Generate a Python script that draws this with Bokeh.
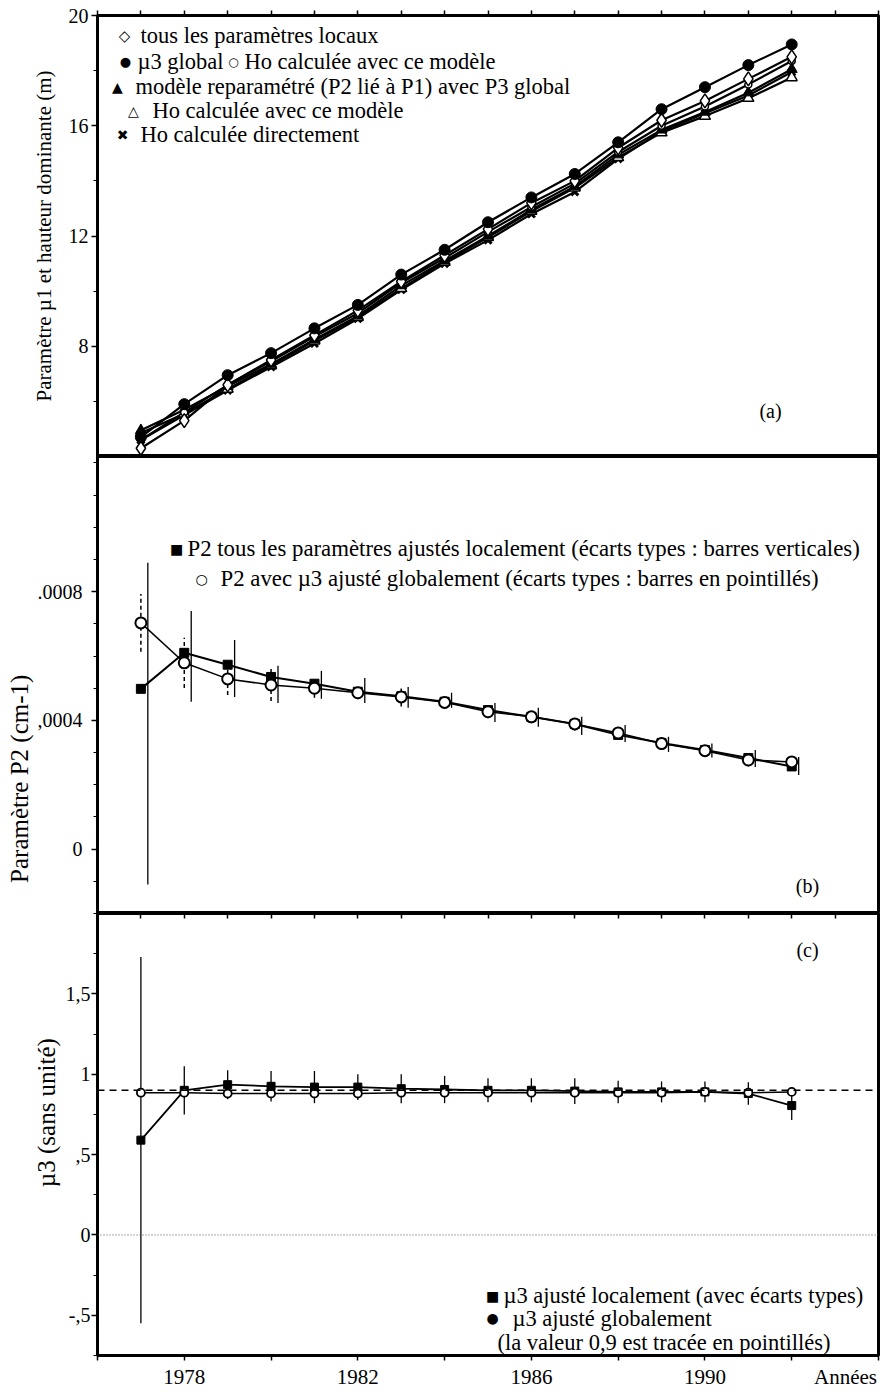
from bokeh.plotting import figure
from bokeh.models import Range1d, FixedTicker, Label, Span, ColumnDataSource, LinearAxis
from bokeh.layouts import column
from bokeh.transform import dodge
from bokeh.embed import file_html
from bokeh.resources import INLINE

# ---------------- data ----------------
years = [1977, 1978, 1979, 1980, 1981, 1982, 1983, 1984,
         1985, 1986, 1987, 1988, 1989, 1990, 1991, 1992]

# panel (a): parametre mu1 et hauteur dominante (m)
a_local_all = [4.3, 5.3, 6.6, 7.5, 8.4, 9.3, 10.35, 11.3, 12.25, 13.2, 14.0, 15.2, 16.2, 16.9, 17.7, 18.5]
a_mu3_global = [4.7, 5.9, 6.95, 7.75, 8.65, 9.5, 10.6, 11.5, 12.5, 13.4, 14.25, 15.4, 16.6, 17.4, 18.2, 18.95]
a_ho_global = [4.6, 5.6, 6.6, 7.45, 8.35, 9.2, 10.3, 11.2, 12.15, 13.05, 13.9, 15.05, 16.0, 16.7, 17.5, 18.35]
a_reparam = [4.95, 5.7, 6.55, 7.35, 8.25, 9.1, 10.2, 11.1, 12.0, 12.95, 13.8, 14.95, 15.85, 16.5, 17.2, 18.05]
a_ho_reparam = [4.85, 5.55, 6.45, 7.3, 8.2, 9.05, 10.1, 11.05, 11.95, 12.9, 13.75, 14.85, 15.75, 16.35, 17.0, 17.75]
a_ho_direct = [4.6, 5.5, 6.4, 7.25, 8.1, 9.0, 10.05, 11.0, 11.85, 12.8, 13.6, 14.8, 15.8, 16.45, 17.1, 17.95]

# panel (b): parametre P2 (cm-1)
p2_local = [0.000498, 0.00061, 0.000573, 0.000535, 0.000514, 0.000489, 0.000475, 0.000458,
            0.000432, 0.000411, 0.000389, 0.000355, 0.00033, 0.000308, 0.000283, 0.000257]
p2_local_low = [-0.00011, 0.000458, 0.000473, 0.000454, 0.000467, 0.000454, 0.000439, 0.000439,
                0.000395, 0.00038, 0.000355, 0.000333, 0.000302, 0.000285, 0.000255, 0.00023]
p2_local_high = [0.00089, 0.00074, 0.00065, 0.00057, 0.000554, 0.000532, 0.000504, 0.000486,
                 0.000454, 0.000439, 0.000411, 0.000386, 0.000349, 0.000328, 0.000308, 0.000286]
p2_global = [0.000703, 0.000579, 0.000529, 0.00051, 0.0005, 0.000486, 0.000473, 0.000456,
             0.000427, 0.000411, 0.000389, 0.000361, 0.000328, 0.000306, 0.000277, 0.000271]
p2_global_sd = [0.00009, 0.000078, 0.00005, 0.00005, 0.00003, 0.00002, 0.00003, 0.00002,
                0.00002, 0.00002, 0.00002, 0.00002, 0.00002, 0.00002, 0.00002, 0.00002]

# panel (c): mu3 (sans unite)
mu3_local = [0.59, 0.9, 0.935, 0.925, 0.92, 0.92, 0.91, 0.905, 0.9, 0.9, 0.895, 0.89, 0.89, 0.89, 0.88, 0.805]
mu3_local_sd = [1.14, 0.15, 0.09, 0.095, 0.1, 0.08, 0.09, 0.085, 0.075, 0.075, 0.08, 0.07, 0.065, 0.065, 0.07, 0.09]
mu3_global = [0.885, 0.885, 0.88, 0.88, 0.88, 0.88, 0.885, 0.885, 0.885, 0.885, 0.885, 0.885, 0.885, 0.89, 0.885, 0.89]
mu3_reference = 0.9

x_tick_years = [1978, 1982, 1986, 1990]
x_tick_marks = [1976, 1978, 1980, 1982, 1984, 1986, 1988, 1990, 1992, 1994]
border_tick_years = [1976, 1977, 1978, 1979, 1980, 1981, 1982, 1983, 1984, 1985,
                     1986, 1987, 1988, 1989, 1990, 1991, 1992, 1993, 1994]
x_unit_pos = 1993.24
x_unit_label = "Années"
a_ticks = [8, 12, 16, 20]
a_minor = [4, 6, 10, 14, 18]
b_ticks = [0, 0.0004, 0.0008]
b_tick_labels = ["0", ",0004", ".0008"]
b_minor = [-0.0002, -0.0001, 0.0001, 0.0002, 0.0003, 0.0005, 0.0006, 0.0007, 0.0009, 0.001, 0.0011, 0.0012]
c_ticks = [-0.5, 0, 0.5, 1, 1.5]
c_tick_labels = ["-,5", "0", ",5", "1", "1,5"]
c_minor = [-0.75, -0.25, 0.25, 0.75, 1.25, 1.75, 2.0]

# ---------------- style ----------------
FONT = "Liberation Serif"
SYM = "DejaVu Sans"
W = 883
LEFT = 97
RIGHT = 5
LEG = "22.5px"
NB = "\u00a0"

# helpers: reference-picture pixel -> data coordinates (annotation text only)
def xp(px):
    return 1976 + (px - 97) / 781 * 18

def ya(py):
    return 20 - (py - 15) / 441 * 16

def yb(py):
    return 0.00122 - (py - 456) / 457 * 0.00142

def yc(py):
    return 2.0 - (py - 913) / 450 * 2.75

xr = Range1d(1976, 1994)


def base(p):
    p.xgrid.visible = False
    p.ygrid.visible = False
    p.outline_line_color = "black"
    p.outline_line_width = 3
    p.outline_line_alpha = 1.0
    p.background_fill_color = "white"
    p.border_fill_color = "white"


def style_yaxis(ax, ticks, minor, label, lab_size, standoff, lab_standoff, overrides=None):
    ax.ticker = FixedTicker(ticks=ticks, minor_ticks=minor)
    ax.major_tick_out = 6
    ax.major_tick_in = 0
    ax.minor_tick_out = 4
    ax.minor_tick_in = 0
    ax.axis_line_width = 3
    ax.major_tick_line_width = 1.5
    ax.major_label_text_font = FONT
    ax.major_label_text_font_size = "20px"
    ax.major_label_text_color = "black"
    ax.major_label_standoff = standoff
    ax.axis_label = label
    ax.axis_label_text_font = FONT
    ax.axis_label_text_font_size = lab_size
    ax.axis_label_text_font_style = "normal"
    ax.axis_label_text_color = "black"
    ax.axis_label_standoff = lab_standoff
    if overrides:
        ax.major_label_overrides = overrides


def border_axis(tick_in, tick_out):
    # tick marks only (minor ticks), no labels
    return LinearAxis(ticker=FixedTicker(ticks=[], minor_ticks=border_tick_years),
                      major_tick_in=0, major_tick_out=0,
                      minor_tick_in=tick_in, minor_tick_out=tick_out,
                      minor_tick_line_width=1.5, axis_line_width=3)


def txt(p, x, y, s, size=LEG, font=FONT, align="left"):
    p.add_layout(Label(x=x, y=y, text=s, text_font=font, text_font_size=size,
                       text_align=align, text_baseline="middle", text_color="black"))


# ---------------- panel (a) ----------------
pa = figure(width=W, height=456, x_range=xr, y_range=Range1d(4, 20),
            x_axis_location=None, output_backend="svg", toolbar_location=None,
            min_border_left=LEFT, min_border_right=RIGHT, min_border_top=15, min_border_bottom=0)
base(pa)
pa.add_layout(border_axis(0, 5), "above")
style_yaxis(pa.yaxis[0], a_ticks, a_minor,
            "Paramètre µ1 et hauteur dominante (m)", "21px", 3, 10)

srcA = ColumnDataSource(dict(year=years, loc=a_local_all, glob=a_mu3_global, hog=a_ho_global,
                             rep=a_reparam, hor=a_ho_reparam, hod=a_ho_direct))
for col in ["hod", "hor", "rep", "hog", "loc", "glob"]:
    pa.line("year", col, source=srcA, line_color="black", line_width=2.2)
pa.scatter("year", "hod", source=srcA, marker="x", size=10, line_color="black", line_width=3)
pa.scatter("year", "hor", source=srcA, marker="triangle", size=11, fill_color="white",
           line_color="black", line_width=1.5)
pa.scatter("year", "rep", source=srcA, marker="triangle", size=11, fill_color="black", line_color="black")
pa.scatter("year", "hog", source=srcA, marker="circle", size=7, fill_color="white",
           line_color="black", line_width=1.5)
pa.scatter("year", "loc", source=srcA, marker="diamond", size=14, fill_color="white",
           line_color="black", line_width=1.5)
pa.scatter("year", "glob", source=srcA, marker="circle", size=11, fill_color="black", line_color="black")

txt(pa, xp(124), ya(35), "◇", "15px", SYM, "center")
txt(pa, xp(140), ya(35), "tous les paramètres locaux")
txt(pa, xp(125), ya(61), "●", "13px", SYM, "center")
txt(pa, xp(137), ya(61), "µ3 global")
txt(pa, xp(233), ya(61), "○", "12px", SYM, "center")
txt(pa, xp(244), ya(61), "Ho calculée avec ce modèle")
txt(pa, xp(117), ya(86), "▲", "14px", SYM, "center")
txt(pa, xp(135), ya(86), "modèle reparamétré (P2 lié à P1) avec P3 global")
txt(pa, xp(133), ya(110), "△", "14px", SYM, "center")
txt(pa, xp(152), ya(110), "Ho calculée avec ce modèle")
txt(pa, xp(122), ya(134), "✖", "14px", SYM, "center")
txt(pa, xp(140), ya(134), "Ho calculée directement")
txt(pa, xp(770), ya(410), "(a)", "20px", FONT, "center")

# ---------------- panel (b) ----------------
pb = figure(width=W, height=457, x_range=xr, y_range=Range1d(-0.0002, 0.00122),
            x_axis_location=None, output_backend="svg", toolbar_location=None,
            min_border_left=LEFT, min_border_right=RIGHT, min_border_top=0, min_border_bottom=0)
base(pb)
# trailing no-break spaces shift the centred title down, as in the reference
style_yaxis(pb.yaxis[0], b_ticks, b_minor, "Paramètre P2 (cm-1)" + NB * 30, "25px", 9, 2,
            {t: s for t, s in zip(b_ticks, b_tick_labels)})

srcB = ColumnDataSource(dict(year=years, loc=p2_local, lo=p2_local_low, hi=p2_local_high,
                             glob=p2_global,
                             glo=[v - s for v, s in zip(p2_global, p2_global_sd)],
                             ghi=[v + s for v, s in zip(p2_global, p2_global_sd)]))
pb.segment(x0=dodge("year", 0.16), y0="lo", x1=dodge("year", 0.16), y1="hi", source=srcB,
           line_color="black", line_width=1.3)
pb.segment(x0="year", y0="glo", x1="year", y1="ghi", source=srcB,
           line_color="black", line_width=1.5, line_dash="4 3")
pb.line("year", "loc", source=srcB, line_color="black", line_width=2)
pb.line("year", "glob", source=srcB, line_color="black", line_width=1.5)
pb.scatter("year", "loc", source=srcB, marker="square", size=9, fill_color="black", line_color="black")
pb.scatter("year", "glob", source=srcB, marker="circle", size=11, fill_color="white",
           line_color="black", line_width=2)

txt(pb, xp(176), yb(548), "■", "14px", SYM, "center")
txt(pb, xp(187), yb(548), "P2 tous les paramètres ajustés localement (écarts types : barres verticales)",
    "22.8px")
txt(pb, xp(201), yb(578), "○", "14px", SYM, "center")
txt(pb, xp(220), yb(578), "P2 avec µ3 ajusté globalement (écarts types : barres en pointillés)",
    "22.8px")
txt(pb, xp(807), yb(885), "(b)", "20px", FONT, "center")

# ---------------- panel (c) ----------------
pc = figure(width=W, height=478, x_range=xr, y_range=Range1d(-0.75, 2.0),
            x_axis_location="below", output_backend="svg", toolbar_location=None,
            min_border_left=LEFT, min_border_right=RIGHT, min_border_top=0, min_border_bottom=28)
base(pc)
xc = pc.xaxis[0]
xc.ticker = FixedTicker(ticks=x_tick_years + [x_unit_pos], minor_ticks=x_tick_marks)
xc.major_label_overrides = {x_unit_pos: x_unit_label}
xc.major_tick_out = 0
xc.major_tick_in = 0
xc.minor_tick_out = 5
xc.minor_tick_in = 0
xc.minor_tick_line_width = 1.5
xc.axis_line_width = 3
xc.major_label_text_font = FONT
xc.major_label_text_font_size = "21px"
xc.major_label_text_color = "black"
xc.major_label_standoff = 4

pc.add_layout(border_axis(5, 0), "above")

# leading no-break spaces shift the centred title up, as in the reference
style_yaxis(pc.yaxis[0], c_ticks, c_minor, NB * 7 + "µ3 (sans unité)", "25px", 1, 3,
            {t: s for t, s in zip(c_ticks, c_tick_labels)})

pc.add_layout(Span(location=0, dimension="width", line_color="#555555", line_width=1, line_dash="1 2"))
pc.add_layout(Span(location=mu3_reference, dimension="width", line_color="black", line_width=1.5,
                   line_dash="7 5"))

srcC = ColumnDataSource(dict(year=years, loc=mu3_local,
                             lo=[v - s for v, s in zip(mu3_local, mu3_local_sd)],
                             hi=[v + s for v, s in zip(mu3_local, mu3_local_sd)],
                             glob=mu3_global))
pc.segment(x0="year", y0="lo", x1="year", y1="hi", source=srcC, line_color="black", line_width=1.3)
pc.line("year", "glob", source=srcC, line_color="black", line_width=1.5)
pc.line("year", "loc", source=srcC, line_color="black", line_width=1.8)
pc.scatter("year", "loc", source=srcC, marker="square", size=8, fill_color="black", line_color="black")
pc.scatter("year", "glob", source=srcC, marker="circle", size=8, fill_color="white",
           line_color="black", line_width=1.8)

txt(pc, xp(807), yc(950), "(c)", "20px", FONT, "center")
txt(pc, xp(492), yc(1302), "■", "14px", SYM, "center")
txt(pc, xp(503), yc(1302), "µ3 ajusté localement (avec écarts types)")
txt(pc, xp(492), yc(1325), "●", "14px", SYM, "center")
txt(pc, xp(512), yc(1325), "µ3 ajusté globalement")
txt(pc, xp(497), yc(1350), "(la valeur  0,9 est tracée en pointillés)")

layout = column(pa, pb, pc, spacing=0)
open("out.html", "w").write(file_html(layout, INLINE))
